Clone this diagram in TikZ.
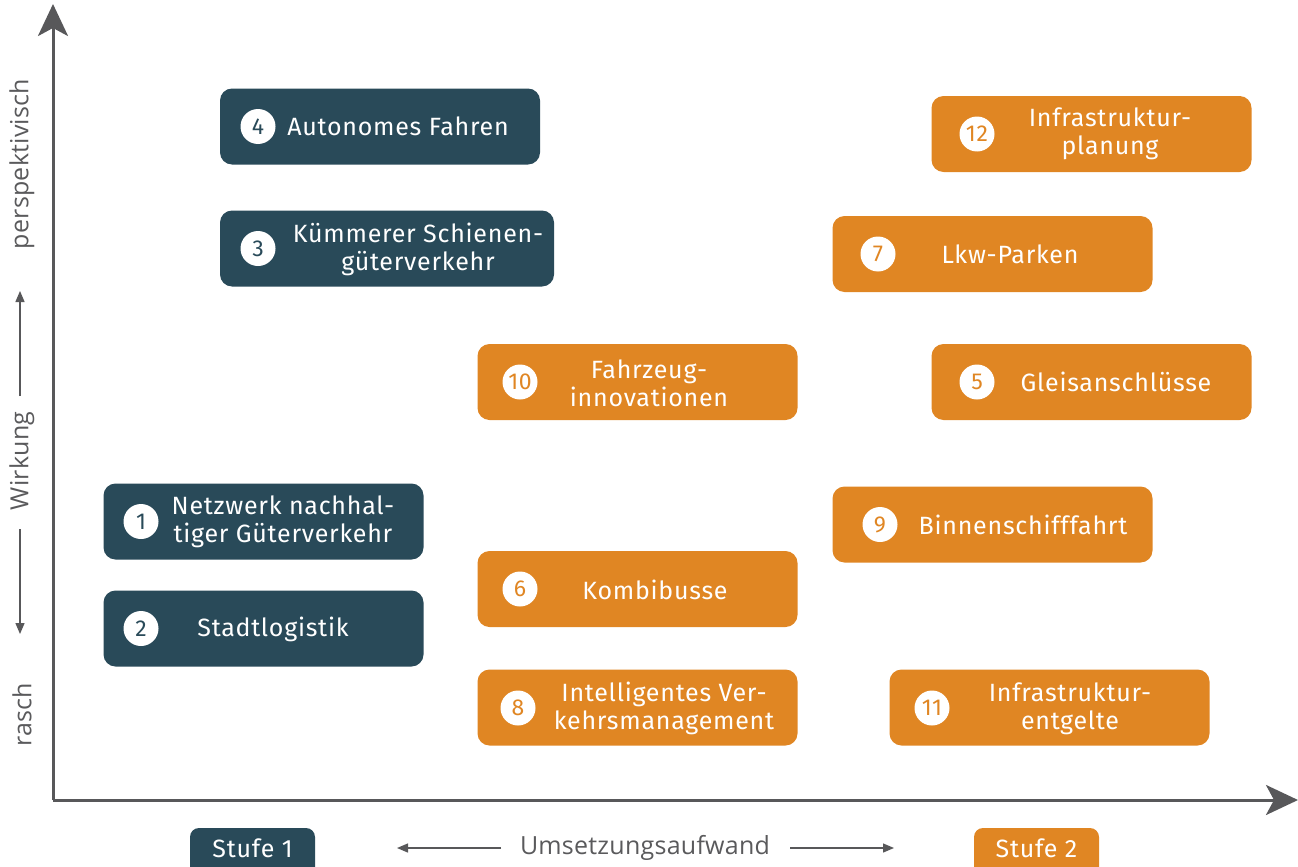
\documentclass[tikz,border=0pt]{standalone}
\usepackage{fontspec}
\setmainfont{Fira Sans}[LetterSpace=3]
\newfontfamily\axisfont{Open Sans}[LetterSpace=1]
\usetikzlibrary{arrows.meta}
\definecolor{dteal}{HTML}{294A59}
\definecolor{orng}{HTML}{E08623}
\definecolor{axgray}{HTML}{58585A}
\definecolor{lblgray}{HTML}{5A5A5C}
\begin{document}
\begin{tikzpicture}[x=1pt,y=-1pt,
  card/.style={rounded corners=12pt, minimum width=320pt, minimum height=76pt, inner sep=0pt, draw=none},
  dcard/.style={card, fill=dteal},
  ocard/.style={card, fill=orng},
  num/.style={circle, fill=white, minimum size=35pt, inner sep=0pt, font=\fontsize{23}{23}\selectfont\mdseries},
  lbl/.style={text=white, align=center, inner sep=0pt, font=\fontsize{25}{28}\selectfont},
  axis/.style={draw=axgray, line width=3pt, -{Stealth[length=32pt, width=30pt, inset=8pt]}},
  small/.style={draw=axgray, line width=1.3pt, -{Triangle[length=11pt, width=9pt]}},
  axlbl/.style={text=lblgray, inner sep=0pt, font=\axisfont\fontsize{25}{25}\selectfont},
  stufe/.style={rounded corners=9pt, minimum width=125pt, minimum height=52pt, inner sep=0pt},
]
\useasboundingbox (0,0) rectangle (1298,867);
\clip (0,0) rectangle (1298,867);

% axes
\coordinate (o) at (53,800);
\coordinate (ytip) at (53,4);
\coordinate (xtip) at (1298,800);
\draw[axis] (o) -- (ytip);
\draw[axis] (o) -- (xtip);

% vertical axis labels
\node[axlbl, rotate=90] (persp) at (22,164) {perspektivisch};
\node[axlbl, rotate=90] (wirk) at (22,461) {Wirkung};
\node[axlbl, rotate=90] (rasch) at (22,715) {rasch};
\coordinate (wu1) at (20,396);
\coordinate (wu2) at (20,291);
\coordinate (wd1) at (20,529);
\coordinate (wd2) at (20,634);
\draw[small] (wu1) -- (wu2);
\draw[small] (wd1) -- (wd2);

% horizontal axis label
\node[axlbl] (ums) at (645,848) {Umsetzungsaufwand};
\coordinate (ul1) at (501,848);
\coordinate (ul2) at (397,848);
\coordinate (ur1) at (790,848);
\coordinate (ur2) at (894,848);
\draw[small] (ul1) -- (ul2);
\draw[small] (ur1) -- (ur2);

\node[stufe, fill=dteal] (s1) at (252.5,854) {};
\node[lbl] (s1t) at (252.5,848) {Stufe 1};
\node[stufe, fill=orng] (s2) at (1036.5,854) {};
\node[lbl] (s2t) at (1036.5,848) {Stufe 2};

% cards
\node[dcard] (b4) at (380,126.5) {};
\node[num, text=dteal] (n4) at (258,126.5) {4};
\node[lbl] (t4) at (398,126.5) {Autonomes Fahren};

\node[dcard, minimum width=334pt] (b3) at (387,248.5) {};
\node[num, text=dteal] (n3) at (258,248.5) {3};
\node[lbl] (t3) at (418,249) {Kümmerer Schienen-\\güterverkehr};

\node[ocard] (b12) at (1091.5,134) {};
\node[num, text=orng] (n12) at (977,134) {12};
\node[lbl] (t12) at (1110,134) {Infrastruktur-\\planung};

\node[ocard] (b7) at (992.5,254) {};
\node[num, text=orng] (n7) at (878,254) {7};
\node[lbl] (t7) at (1010,254) {Lkw-Parken};

\node[ocard] (b10) at (637.5,382) {};
\node[num, text=orng] (n10) at (520,382) {10};
\node[lbl] (t10) at (649,383) {Fahrzeug-\\innovationen};

\node[ocard] (b5) at (1091.5,382) {};
\node[num, text=orng] (n5) at (977,382) {5};
\node[lbl] (t5) at (1116,382) {Gleisanschlüsse};

\node[dcard] (b1) at (263.5,521.5) {};
\node[num, text=dteal] (n1) at (141,521.5) {1};
\node[lbl] (t1) at (283,522) {Netzwerk nachhal-\\tiger Güterverkehr};

\node[ocard] (b9) at (992.5,524.5) {};
\node[num, text=orng] (n9) at (880,524.5) {9};
\node[lbl] (t9) at (1023,524.5) {Binnenschifffahrt};

\node[ocard] (b6) at (637.5,589) {};
\node[num, text=orng] (n6) at (520,589) {6};
\node[lbl] (t6) at (655,590) {Kombibusse};

\node[dcard] (b2) at (263.5,628.5) {};
\node[num, text=dteal] (n2) at (141,628.5) {2};
\node[lbl] (t2) at (273,629) {Stadtlogistik};

\node[ocard] (b8) at (637.5,707.5) {};
\node[num, text=orng] (n8) at (518,708) {8};
\node[lbl] (t8) at (664,708.5) {Intelligentes Ver-\\kehrsmanagement};

\node[ocard] (b11) at (1049.5,707.5) {};
\node[num, text=orng] (n11) at (932,708) {11};
\node[lbl] (t11) at (1070,709) {Infrastruktur-\\entgelte};
\end{tikzpicture}
\end{document}
